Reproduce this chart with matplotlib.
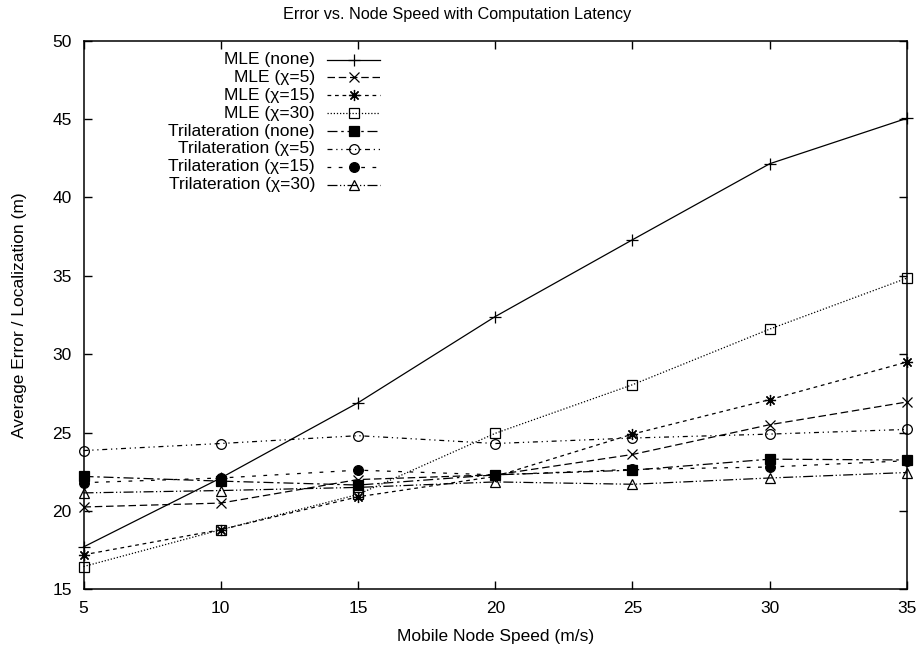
import matplotlib
matplotlib.use("Agg")
import matplotlib.pyplot as plt

plt.rcParams['font.family'] = ['Liberation Sans', 'DejaVu Sans']

speeds = [5, 10, 15, 20, 25, 30, 35]

mle_none = [17.7, 22.1, 26.9, 32.4, 37.3, 42.15, 45.05]
mle_x5 = [20.25, 20.5, 22.0, 22.3, 23.6, 25.5, 26.95]
mle_x15 = [17.2, 18.8, 20.9, 22.2, 24.9, 27.1, 29.5]
mle_x30 = [16.45, 18.8, 21.05, 24.95, 28.05, 31.6, 34.85]
tri_none = [22.2, 21.9, 21.65, 22.3, 22.6, 23.3, 23.25]
tri_x5 = [23.85, 24.3, 24.8, 24.3, 24.65, 24.9, 25.2]
tri_x15 = [21.8, 22.1, 22.6, 22.3, 22.65, 22.8, 23.2]
tri_x30 = [21.15, 21.3, 21.5, 21.85, 21.7, 22.1, 22.45]

labels = ['MLE (none)', 'MLE (χ=5)', 'MLE (χ=15)', 'MLE (χ=30)',
          'Trilateration (none)', 'Trilateration (χ=5)',
          'Trilateration (χ=15)', 'Trilateration (χ=30)']
series = [mle_none, mle_x5, mle_x15, mle_x30, tri_none, tri_x5, tri_x15, tri_x30]

styles = [
    dict(ls='-', marker='+', mfc='black', ms=8),
    dict(ls=(0, (6, 3)), marker='x', mfc='black', ms=7),
    dict(ls=(0, (3, 3)), marker=(8, 2, 0), mfc='black', ms=8),
    dict(ls=(0, (1, 1.5)), marker='s', mfc='none', ms=7),
    dict(ls=(0, (8, 3, 2, 3)), marker='s', mfc='black', ms=7),
    dict(ls=(0, (4, 3, 1, 3, 1, 3)), marker='o', mfc='none', ms=7),
    dict(ls=(0, (3, 6)), marker='o', mfc='black', ms=7),
    dict(ls=(0, (8, 2, 1, 2, 1, 2)), marker='^', mfc='none', ms=7),
]

FS = 12.5

fig = plt.figure(figsize=(9.22, 6.52), dpi=100)
ax = fig.add_axes([0.0906, 0.0962, 0.8931, 0.8414])

for ys, st in zip(series, styles):
    ax.plot(speeds, ys, color='black', lw=0.9, linestyle=st['ls'],
            marker=st['marker'], markersize=st['ms'],
            markerfacecolor=st['mfc'], markeredgecolor='black',
            markeredgewidth=0.9, clip_on=False)

ax.set_xlim(5, 35)
ax.set_ylim(15, 50)
ax.set_xticks(speeds)
ax.set_yticks(range(15, 51, 5))
ax.tick_params(direction='in', length=6, width=1, top=True, right=True,
               labelsize=FS)
ax.tick_params(axis='y', pad=8.5)
ax.tick_params(axis='x', pad=8.5)
for sp in ax.spines.values():
    sp.set_linewidth(1.1)

ax.set_xlabel('Mobile Node Speed (m/s)', fontsize=FS, labelpad=9)
ax.set_ylabel('Average Error / Localization (m)', fontsize=FS, labelpad=18)
fig.text(0.496, 0.978, 'Error vs. Node Speed with Computation Latency',
         ha='center', va='center', fontsize=11.7)

# key in the upper left, text right-aligned before the line samples
key_text_x = 315
key_line = (327, 380)
key_y0 = 59.5
key_dy = 17.9
W, H = 922, 652
for i, (lab, st) in enumerate(zip(labels, styles)):
    yy = 1 - (key_y0 + i * key_dy) / H
    fig.text(key_text_x / W, yy, lab, ha='right', va='center', fontsize=FS)
    fig.add_artist(plt.Line2D([key_line[0] / W, key_line[1] / W], [yy, yy],
                              transform=fig.transFigure, color='black', lw=0.9,
                              linestyle=st['ls']))
    fig.add_artist(plt.Line2D([(key_line[0] + key_line[1]) / 2 / W], [yy],
                              transform=fig.transFigure, color='black', lw=0,
                              marker=st['marker'], markersize=st['ms'],
                              markerfacecolor=st['mfc'],
                              markeredgecolor='black', markeredgewidth=0.9))

fig.savefig('out.png', dpi=100)
